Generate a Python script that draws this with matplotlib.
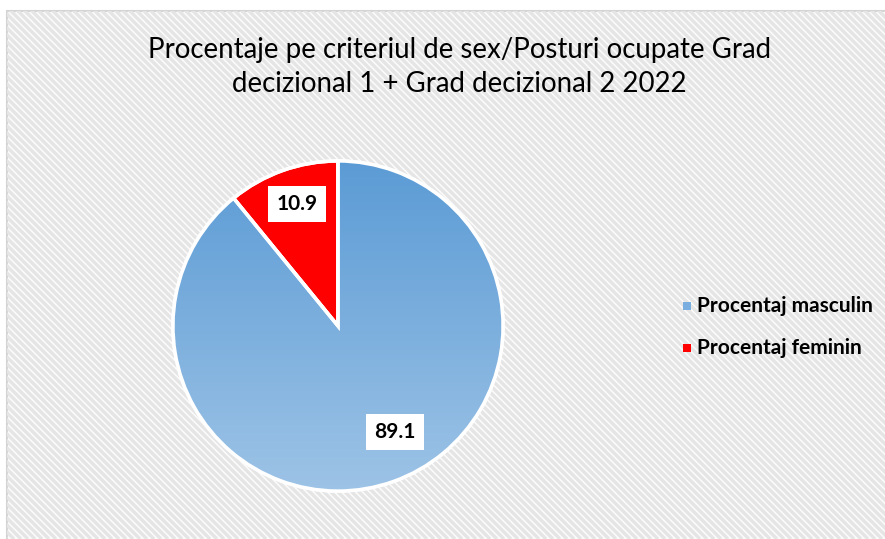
import numpy as np
import matplotlib.pyplot as plt
from matplotlib.patches import Wedge, Rectangle
from matplotlib.collections import LineCollection

plt.rcParams["font.family"] = ["Lato", "DejaVu Sans"]

labels = ["Procentaj masculin", "Procentaj feminin"]
values = [89.1, 10.9]
title = "Procentaje pe criteriul de sex/Posturi ocupate Grad\ndecizional 1 + Grad decizional 2 2022"

W, H = 885, 539
fig = plt.figure(figsize=(W / 100, H / 100), dpi=100)
fig.patch.set_facecolor("white")

# background: chart area with diagonal stripes
bg = fig.add_axes([0, 0, 1, 1])
bg.set_xlim(0, W)
bg.set_ylim(H, 0)
bg.axis("off")
area = Rectangle((7, 11), W, H, facecolor="#fbfbfb", edgecolor="#d4d4d4", linewidth=1.5, zorder=0)
bg.add_patch(area)
segs = []
for c in np.arange(-H, W + H, 7):
    segs.append([(c, 0), (c + H, H)])
stripes = LineCollection(segs, colors="#e5e5e5", linewidths=2.4, zorder=0.5)
bg.add_collection(stripes)
stripes.set_clip_path(area)

fig.text(0.519, 1 - 67 / H, title, ha="center", va="center", fontsize=19.9,
         linespacing=1.38, color="black")

# pie
cx, cy, r = 338, 326, 165
ax = fig.add_axes([(cx - r - 5) / W, (H - cy - r - 5) / H, (2 * r + 10) / W, (2 * r + 10) / H])
ax.set_xlim(-1.03, 1.03)
ax.set_ylim(-1.03, 1.03)
ax.set_aspect("equal")
ax.axis("off")

colors = ["#5b9bd5", "#ff0000"]
total = sum(values)
start = 90.0
wedges = []
for v, c in zip(values, colors):
    end = start - v / total * 360
    w = Wedge((0, 0), 1, end, start, facecolor=c, edgecolor="white", linewidth=2.5)
    ax.add_patch(w)
    wedges.append((w, start, end))
    start = end

# gradient on masculin wedge
grad = np.linspace(0, 1, 256).reshape(-1, 1)
top = np.array([0x5b, 0x9b, 0xd5]) / 255
bot = np.array([0x9d, 0xc3, 0xe6]) / 255
img = top + (bot - top) * grad[:, :, None]
im = ax.imshow(img, extent=[-1, 1, -1, 1], origin="upper", zorder=1.5)
im.set_clip_path(wedges[0][0])
for w, s, e in wedges:
    ax.add_patch(Wedge((0, 0), 1, e, s, facecolor="none",
                       edgecolor="white", linewidth=2.5, zorder=2))

label_pos = [(-61.7, 0.73), (108.6, 0.78)]
for v, (ang, d) in zip(values, label_pos):
    a = np.deg2rad(ang)
    ax.text(d * np.cos(a), d * np.sin(a), f"{v}", ha="center", va="center",
            fontsize=15, fontweight="bold", zorder=3,
            bbox=dict(boxstyle="square,pad=0.4", facecolor="white", edgecolor="none"))

# legend
for i, (lab, c) in enumerate(zip(labels, ["#7aaee0", "#ff0000"])):
    y = 306 + i * 42
    bg.add_patch(Rectangle((683, y - 4), 8, 8, facecolor=c, edgecolor="none", zorder=3))
    bg.text(697, y, lab, ha="left", va="center", fontsize=15, fontweight="bold", zorder=3)

fig.savefig("out.png", dpi=100)
